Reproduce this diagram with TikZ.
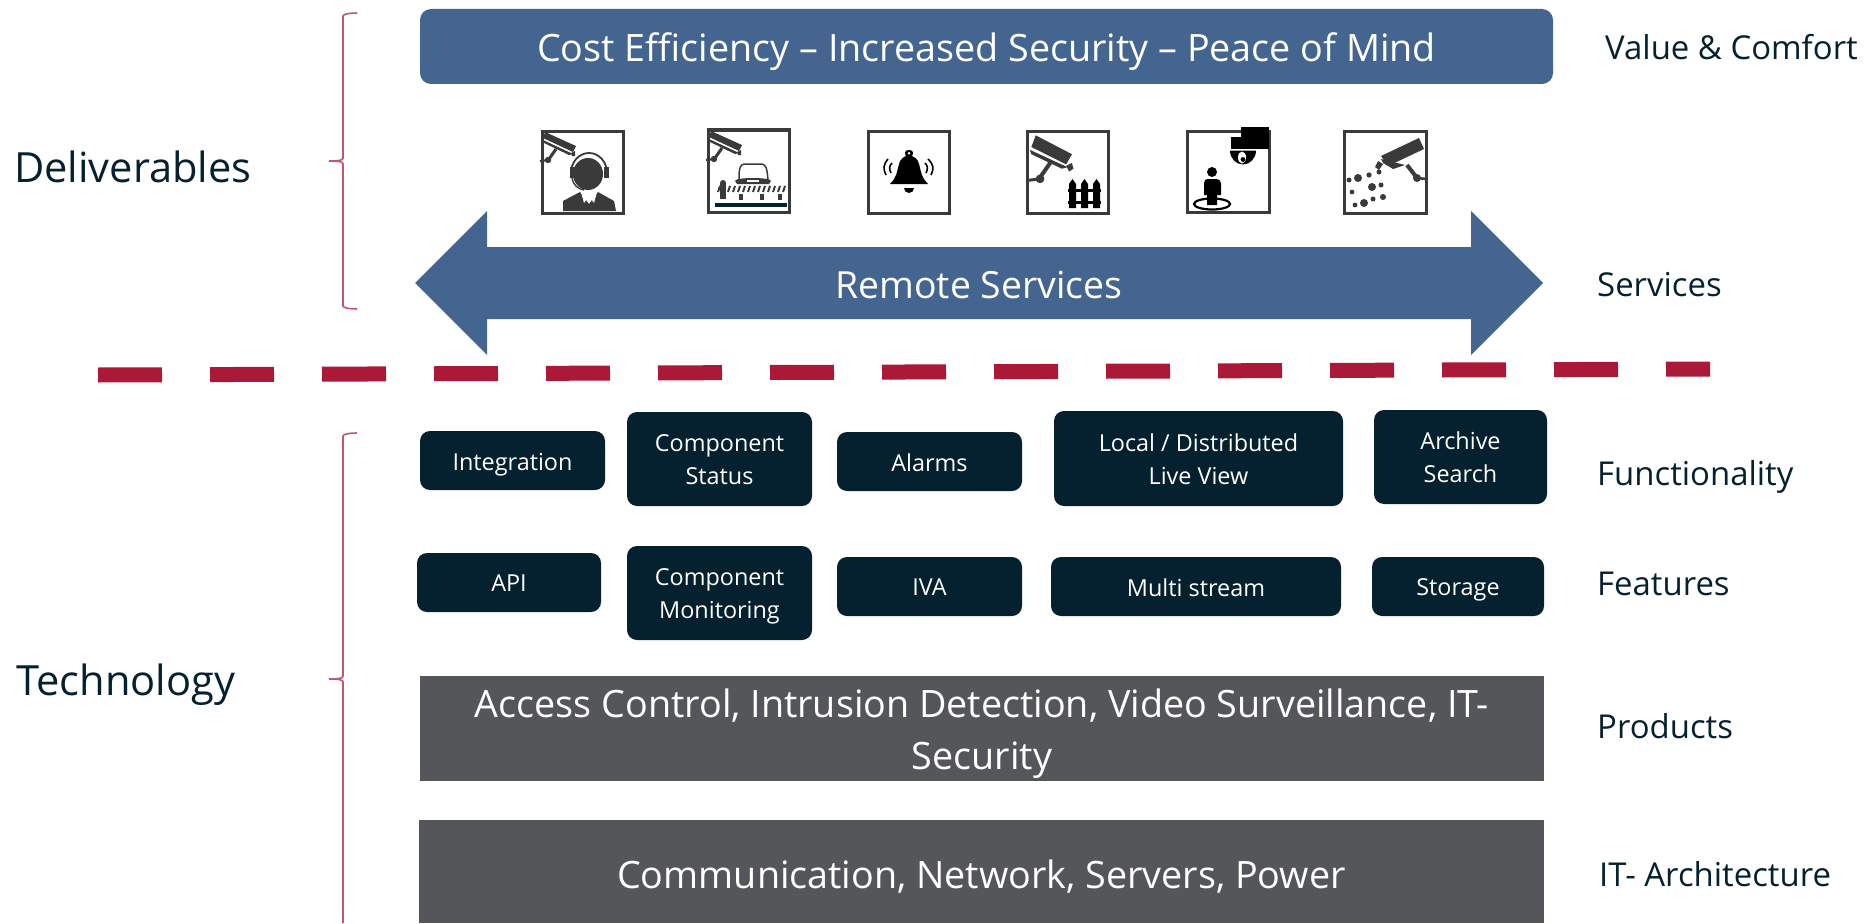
\documentclass[tikz,border=0pt]{standalone}
\usepackage{fontspec}
\setmainfont{Open Sans}
\definecolor{navy}{HTML}{05202F}
\definecolor{steel}{HTML}{44658F}
\definecolor{slate}{HTML}{54565A}
\definecolor{crimson}{HTML}{AA1A38}
\definecolor{bracered}{HTML}{C2566E}
\definecolor{icondark}{HTML}{3A3A3A}
\tikzset{
  darkbox/.style={fill=navy,rounded corners=10pt,text=white,align=center,inner sep=0pt,font=\fontsize{23.4}{32}\selectfont},
  greybox/.style={fill=slate,text=white,align=center,inner sep=0pt,font=\fontsize{37.7}{51}\selectfont},
  sidelabel/.style={text=navy,anchor=west,inner sep=0pt,font=\fontsize{32.9}{38}\selectfont},
  biglabel/.style={text=navy,anchor=west,inner sep=0pt,font=\fontsize{41.6}{48}\selectfont},
  iconframe/.style={draw=icondark,line width=3pt,fill=white},
  bracket/.style={draw=bracered,line width=1.6pt},
}
% box from corner to corner
\newcommand{\bx}[7]{\node[#1,minimum width=#4pt-#2pt,minimum height=#5pt-#3pt] (#6) at ({(#2+#4)/2},{(#3+#5)/2}) {#7};}
% text line whose descenders do not count in the centring
\newcommand{\dn}[1]{\raisebox{-1pt}[\height][0pt]{#1}}
% camera, drawn in the frame of icon 1 (origin = box corner)
\newcommand{\camera}{%
  \fill[icondark] (3,1) -- (34,15) -- (31,21) -- (1,7) -- cycle;
  \fill[icondark] (1,9) -- (31,23) -- (27,24) -- (2,12) -- cycle;
  \fill[icondark] (29,22) -- (33,20) -- (33,25) -- (30,25) -- cycle;
  \draw[icondark,line width=3pt] (14,18) -- (7,28);
  \fill[icondark] (6,29) circle (3.2);
  \draw[icondark,line width=2.2pt] (6,29) -- (-2,30);
}
\begin{document}
\begin{tikzpicture}[x=1pt,y=-1pt]
\useasboundingbox (0,0) rectangle (1867,923);
% top bar
\node[fill=steel,rounded corners=11pt,text=white,inner sep=0pt,minimum width=1133pt,minimum height=75pt,font=\fontsize{37.7}{46}\selectfont] (value) at (986.5,46.5) {\dn{Cost Efficiency – Increased Security – Peace of Mind}};
% double arrow
\fill[steel] (415,283) -- (487,211) -- (487,247) -- (1471,247) -- (1471,211) -- (1543,283) -- (1471,355) -- (1471,319) -- (487,319) -- (487,355) -- cycle;
\node[text=white,inner sep=0pt,font=\fontsize{37.4}{44}\selectfont] (remote) at (979,285) {Remote Services};
% separator
\coordinate (sepa) at (98,375);
\coordinate (sepb) at (1710,369);
\draw[crimson,line width=15pt,dash pattern=on 64pt off 48pt] (sepa) -- (sepb);
% braces
\draw[bracket] (357,13) .. controls (350,13) and (343,14) .. (343,16) -- (343,158) .. controls (343,160) and (340,161) .. (329,161) .. controls (340,161) and (343,162) .. (343,164) -- (343,306) .. controls (343,308) and (350,309) .. (357,309);
\draw[bracket] (357,433) .. controls (350,433) and (343,434) .. (343,436) -- (343,676) .. controls (343,678) and (340,679) .. (329,679) .. controls (340,679) and (343,680) .. (343,682) -- (343,923);
% left and right labels
\node[biglabel] (deliv) at (14,167) {Deliverables};
\node[biglabel] (techno) at (16,679) {\dn{Technology}};
\node[sidelabel] (l1) at (1605,47) {Value \& Comfort};
\node[sidelabel] (l2) at (1597,285) {Services};
\node[sidelabel] (l3) at (1597,472) {\dn{Functionality}};
\node[sidelabel] (l4) at (1597,584) {Features};
\node[sidelabel] (l5) at (1597,726) {Products};
\node[sidelabel] (l6) at (1599,874) {IT- Architecture};
% dark boxes
\bx{darkbox}{420}{431}{605}{490}{b1}{\dn{Integration}}
\bx{darkbox}{627}{412}{812}{506}{b2}{Component\\\dn{Status}}
\bx{darkbox}{837}{432}{1022}{491}{b3}{\dn{Alarms}}
\bx{darkbox}{1054}{411}{1343}{506}{b4}{Local / Distributed\\\dn{Live View}}
\bx{darkbox}{1374}{410}{1547}{504}{b5}{Archive\\\dn{Search}}
\bx{darkbox}{417}{553}{601}{612}{c1}{\dn{API}}
\bx{darkbox}{627}{546}{812}{640}{c2}{Component\\\dn{Monitoring}}
\bx{darkbox}{837}{557}{1022}{616}{c3}{\dn{IVA}}
\bx{darkbox}{1051}{557}{1341}{616}{c4}{\dn{Multi stream}}
\bx{darkbox}{1372}{557}{1544}{616}{c5}{\dn{Storage}}
\bx{greybox}{420}{676}{1544}{781}{p1}{Access Control, Intrusion Detection, Video Surveillance, IT-\\\dn{Security}}
\bx{greybox}{419}{820}{1544}{923}{p2}{\raisebox{-3pt}[\height][0pt]{Communication, Network, Servers, Power}}
% icon 1: operator
\begin{scope}[shift={(542,131)}]
\draw[iconframe] (0,0) rectangle (81,82);
\camera
\fill[icondark] (46,43) ellipse (15 and 16);
\draw[icondark,line width=1.8pt] (29,42) arc (180:360:18 and 20);
\fill[icondark] (28,36) rectangle (33,47);
\fill[icondark] (62,36) rectangle (67,47);
\draw[icondark,line width=1.4pt] (30,47) .. controls (31,54) and (36,58) .. (42,59);
\fill[icondark] (21,80) -- (21,70) -- (38,61) -- (47,73) -- (56,61) -- (72,70) -- (74,80) -- cycle;
\fill[white] (39,61) -- (45,68) -- (42,72) -- cycle;
\fill[white] (55,61) -- (49,68) -- (52,72) -- cycle;
\end{scope}
% icon 2: barrier
\begin{scope}[shift={(708,130)}]
\draw[iconframe] (0,0) rectangle (81,82);
\camera
\draw[icondark,line width=1.5pt] (31,50) .. controls (31,38) and (32,35) .. (36,34) -- (54,34) .. controls (58,35) and (59,38) .. (60,50);
\fill[icondark] (27,51) .. controls (27,47) and (63,47) .. (63,51) -- (61,54) -- (29,54) -- cycle;
\fill[white] (39,50) rectangle (51,52);
\foreach \bar in {10,15,...,75}{
  \draw[icondark,line width=2pt] (\bar,62) -- (\bar+2,56);
}
\fill[icondark] (15,53) circle (3);
\fill[icondark] (12,53) rectangle (18,69);
\fill[icondark] (31,64) rectangle (35,70);
\fill[icondark] (52,64) rectangle (56,70);
\fill[icondark] (70,64) rectangle (74,70);
\fill[navy] (7,73) rectangle (79,77);
\end{scope}
% icon 3: bell
\begin{scope}[shift={(868,131)}]
\draw[iconframe] (0,0) rectangle (81,82);
\fill[black] (22,53) .. controls (29,46) and (29,40) .. (31,33) .. controls (32,28) and (36,26) .. (38,25) .. controls (36,22) and (37,19) .. (41,19) .. controls (45,19) and (46,22) .. (44,25) .. controls (46,26) and (50,28) .. (51,33) .. controls (53,40) and (53,46) .. (60,53) -- cycle;
\fill[white] (41,22.2) circle (1.4);
\fill[black] (36,57) arc (180:0:5 and 5) -- cycle;
\draw[black,line width=1.6pt] (20,28) .. controls (15,34) and (15,38) .. (18,44);
\draw[black,line width=1.6pt] (24,32) .. controls (21,35) and (21,38) .. (23,42);
\draw[black,line width=1.6pt] (60,28) .. controls (66,34) and (66,38) .. (63,44);
\draw[black,line width=1.6pt] (57,32) .. controls (60,35) and (60,38) .. (58,42);
\end{scope}
% icon 4: camera and fence
\begin{scope}[shift={(1027,131)}]
\draw[iconframe] (0,0) rectangle (81,82);
\begin{scope}[scale=1.45]
\fill[icondark] (6,3) -- (31,16) -- (27,23) -- (3,11) -- cycle;
\fill[icondark] (2,13) -- (28,25) -- (24,26) -- (3,16) -- cycle;
\fill[icondark] (27,24) -- (31,22) -- (32,26) -- (29,28) -- cycle;
\draw[icondark,line width=4pt] (16,22) -- (9,32);
\fill[icondark] (9,33) circle (3);
\draw[icondark,line width=3pt] (9,33) -- (1,34);
\end{scope}
\foreach \fx in {42,54,66}{
  \fill[black] (\fx,53) -- (\fx+3.5,48) -- (\fx+7,53) -- (\fx+7,77) -- (\fx,77) -- cycle;
}
\fill[black] (41,58) rectangle (74,61);
\fill[black] (41,70) rectangle (74,73);
\end{scope}
% icon 5: dome and person
\begin{scope}[shift={(1187,131)}]
\draw[iconframe] (0,0) rectangle (82,81);
\fill[black] (54,-4) rectangle (82,17.5);
\fill[black] (44,6) rectangle (54,17.5);
\fill[black] (43,19.5) -- (69,19.5) arc (0:180:13 and 14) -- cycle;
\fill[white] (55,26.5) ellipse (4 and 6);
\fill[black] (56,28.5) circle (2.4);
\fill[black] (25,41) circle (5);
\fill[black] (17,52) .. controls (17,49) and (19,48) .. (21,48) -- (29,48) .. controls (31,48) and (34,49) .. (34,52) -- (34,64) -- (30,64) -- (30,74) -- (20,74) -- (20,64) -- (17,64) -- cycle;
\draw[black,line width=2.2pt] (25,73) ellipse (18 and 5.5);
\end{scope}
% icon 6: camera and spray
\begin{scope}[shift={(1344,131)}]
\draw[iconframe] (0,0) rectangle (82,82);
\fill[icondark] (75,7) -- (80,18) -- (44,35) -- (37,25) -- cycle;
\fill[icondark] (37,28) -- (61,34) -- (49,38) -- (39,32) -- cycle;
\fill[icondark] (34,30) -- (39,33) -- (35,39) -- (31,36) -- cycle;
\draw[icondark,line width=4pt] (63,34) -- (73,47);
\fill[icondark] (73,47) circle (4);
\draw[icondark,line width=2.5pt] (73,47) -- (83,48);
\foreach \dx/\dy/\dr in {5/49/2.5,14/47/4,25/44/2.6,35/41/2.5,28/56/4,37/54/2.5,8/61/2.4,20/72/4,29/68/2.5,39/66/3,11/74/2.4}{
  \fill[icondark] (\dx,\dy) circle (\dr);
}
\end{scope}
\end{tikzpicture}
\end{document}
